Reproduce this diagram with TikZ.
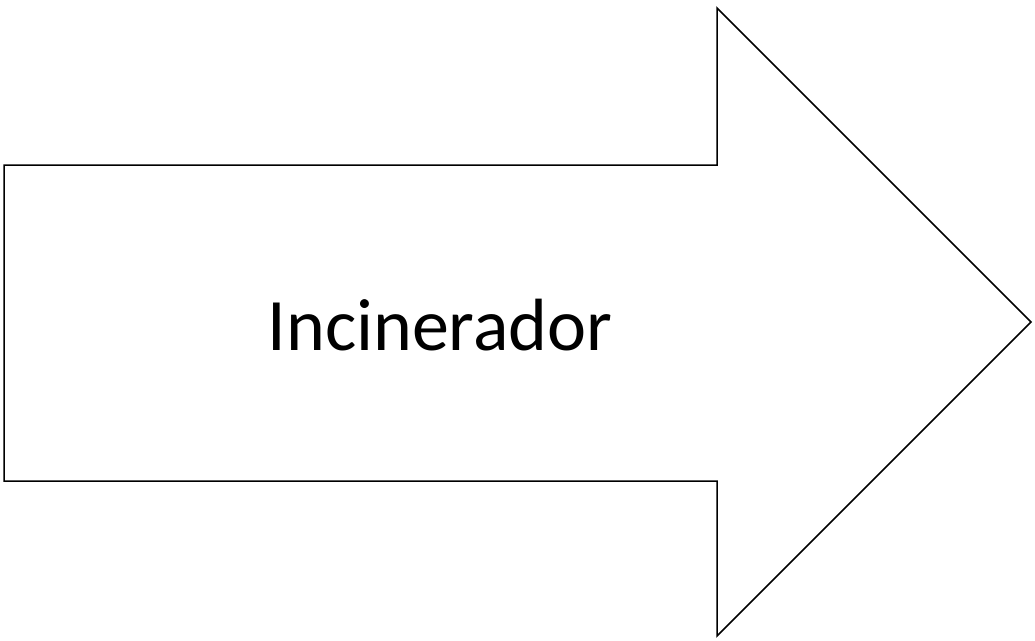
\documentclass[tikz,border=0pt]{standalone}
\usepackage{fontspec}
\setmainfont{Carlito}
\begin{document}
\begin{tikzpicture}[x=1pt,y=-1pt]
\tikzset{arrowshape/.style={draw=black,line width=1.5pt,fill=white,line join=miter}}
\useasboundingbox (0,0) rectangle (1035,640);
\coordinate (t1) at (4,165);
\coordinate (t2) at (717,165);
\coordinate (t3) at (717,8);
\coordinate (tip) at (1031,322);
\coordinate (b3) at (717,636);
\coordinate (b2) at (717,481);
\coordinate (b1) at (4,481);
\draw[arrowshape] (t1) -- (t2) -- (t3) -- (tip) -- (b3) -- (b2) -- (b1) -- cycle;
\node[font=\fontsize{74}{89}\selectfont,inner sep=0pt] (lbl) at (440,325) {Incinerador};
\end{tikzpicture}
\end{document}
